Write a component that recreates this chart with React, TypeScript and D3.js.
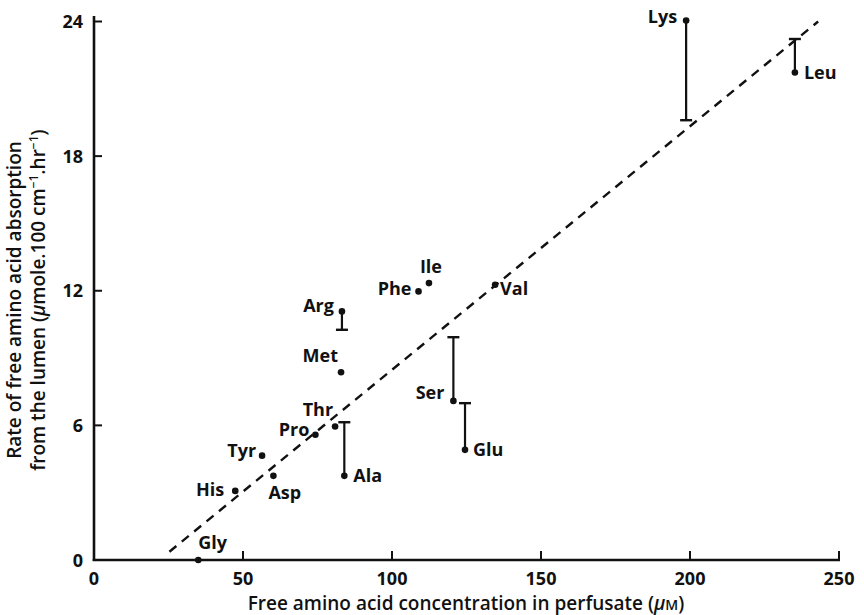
import React from "react";
import * as d3 from "d3";

const names = ["Lys", "Leu", "Ile", "Phe", "Val", "Arg", "Met", "Ser", "Glu", "Thr", "Pro", "Tyr", "Ala", "Asp", "His", "Gly"];
const concX = [198.7, 235.2, 112.4, 108.9, 134.6, 83.2, 82.9, 120.6, 124.5, 80.9, 74.3, 56.4, 84.0, 60.2, 47.4, 35.0];
const rateY = [24.04, 21.73, 12.34, 11.97, 12.27, 11.08, 8.37, 7.09, 4.91, 5.95, 5.58, 4.65, 3.75, 3.75, 3.08, 0.0];
// error bar end value (null = none)
const errEnd: (number | null)[] = [19.6, 23.22, null, null, null, 10.26, null, 9.93, 6.99, null, null, null, 6.14, null, null, null];

const xTicks = [0, 50, 100, 150, 200, 250];
const yTicks = [0, 6, 12, 18, 24];
const fitX = [25.3, 243];
const fitY = [0.37, 24.0];

// label layout: [anchor, dx, dy(baseline)]
const labelLayout: [string, number, number][] = [
  ["end", -9, 2],
  ["start", 9, 7],
  ["middle", 2, -10],
  ["end", -7, 4],
  ["start", 5, 10],
  ["end", -8, 1],
  ["end", -3, -10],
  ["end", -9, -2],
  ["start", 8, 6],
  ["end", -2, -10],
  ["end", -6, 1],
  ["end", -6, 1],
  ["start", 9, 6],
  ["start", -5, 23],
  ["end", -11, 5],
  ["start", 0, -11],
];

const W = 864, H = 615;
const FONT = "'Open Sans', 'Noto Sans', sans-serif";

export default function App() {
  const x = d3.scaleLinear().domain([0, 250]).range([94, 839]);
  const y = d3.scaleLinear().domain([0, 24]).range([560, 21.5]);
  const line = d3.line<number>().x((d) => x(fitX[d])).y((d) => y(fitY[d]));
  const ink = "#111";

  return (
    <svg width={W} height={H} style={{ position: "absolute", left: 0, top: 0, background: "#fff" }} fontFamily={FONT}>
      <rect width={W} height={H} fill="#fff" />
      {/* axes */}
      <line x1={x(0)} x2={x(0)} y1={16} y2={561} stroke={ink} strokeWidth={2.6} />
      <line x1={x(0) - 1.3} x2={x(250) + 1} y1={y(0)} y2={y(0)} stroke={ink} strokeWidth={2.6} />
      {yTicks.map((t) => (
        <g key={"y" + t}>
          <line x1={x(0)} x2={x(0) + 8} y1={y(t)} y2={y(t)} stroke={ink} strokeWidth={2} />
          <text x={83} y={y(t) + 6.5} textAnchor="end" fontSize={18} fontWeight={700} fill={ink}>{t}</text>
        </g>
      ))}
      {xTicks.map((t) => (
        <g key={"x" + t}>
          <line x1={x(t)} x2={x(t)} y1={y(0)} y2={y(0) - 9} stroke={ink} strokeWidth={2} />
          <text x={x(t)} y={585} textAnchor="middle" fontSize={18} fontWeight={700} fill={ink}>{t}</text>
        </g>
      ))}
      {/* fit line */}
      <path d={line([0, 1]) || ""} fill="none" stroke={ink} strokeWidth={2.4} strokeDasharray="9,7" />
      {/* error bars */}
      {names.map((n, i) => {
        const e = errEnd[i];
        if (e === null) return null;
        return (
          <g key={"e" + n}>
            <line x1={x(concX[i])} x2={x(concX[i])} y1={y(rateY[i])} y2={y(e)} stroke={ink} strokeWidth={2.2} />
            <line x1={x(concX[i]) - 6} x2={x(concX[i]) + 6} y1={y(e)} y2={y(e)} stroke={ink} strokeWidth={2.4} />
          </g>
        );
      })}
      {/* points and labels */}
      {names.map((n, i) => {
        const [anchor, dx, dy] = labelLayout[i];
        const px = x(concX[i]);
        const py = y(rateY[i]);
        return (
          <g key={"p" + n}>
            <circle cx={px} cy={py} r={3.3} fill={ink} />
            <text x={px + dx} y={py + dy} textAnchor={anchor as any} fontSize={18} fontWeight={700} fill={ink}>{n}</text>
          </g>
        );
      })}
      {/* axis titles */}
      <text x={466} y={610} textAnchor="middle" fontSize={19} fontWeight={600} fill={ink}>
        Free amino acid concentration in perfusate (<tspan fontStyle="italic">μ</tspan>
        <tspan fontSize={14}>M</tspan>)
      </text>
      <g transform="translate(21,300) rotate(-90)">
        <text x={0} y={0} textAnchor="middle" fontSize={19} fontWeight={600} fill={ink}>
          Rate of free amino acid absorption
        </text>
        <text x={0} y={24} textAnchor="middle" fontSize={19} fontWeight={600} fill={ink}>
          from the lumen (<tspan fontStyle="italic">μ</tspan>mole.100 cm
          <tspan fontSize={12} dy={-7}>−1</tspan>
          <tspan dy={7}>.hr</tspan>
          <tspan fontSize={12} dy={-7}>−1</tspan>
          <tspan dy={7}>)</tspan>
        </text>
      </g>
    </svg>
  );
}
